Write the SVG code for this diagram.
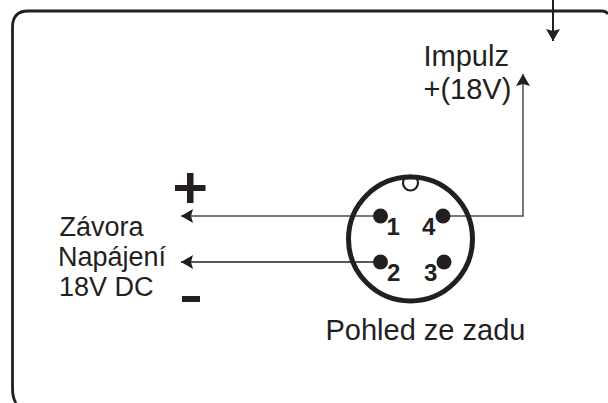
<svg xmlns="http://www.w3.org/2000/svg" width="608" height="403" viewBox="0 0 608 403">
<style>
text{font-family:"Liberation Sans",Arial,sans-serif;fill:#231f20}
.l{font-size:27px}
.r{font-size:29px}
.n{font-size:24px;font-weight:bold}
.w{fill:none;stroke:#4d4b4c;stroke-width:1.500}
.k{fill:#231f20}
</style>
<defs>
<marker id="a" markerUnits="userSpaceOnUse" markerWidth="13" markerHeight="14" refX="12" refY="7" orient="auto"><path d="M0 0L12 7L0 14L2 7Z" fill="#231f20"/></marker>
</defs>
<rect width="608" height="403" fill="#fff"/>
<g id="frame"><path d="M608 14Q606 11 602 11H28Q12.500 11 12.500 27V388Q12.500 398 16 403" fill="none" stroke="#231f20" stroke-width="2.800"/></g>
<g id="connectors">
<path class="w" d="M380 216H181" marker-end="url(#a)"/>
<path class="w" style="stroke:#231f20;stroke-width:1.300" d="M380 262H181" marker-end="url(#a)"/>
<path class="w" d="M443 216H523V74" marker-end="url(#a)"/>
<path class="w" style="stroke:#231f20;stroke-width:2" d="M553 0V41" marker-end="url(#a)"/>
</g>
<g id="connector">
<circle cx="410.500" cy="183" r="7.500" fill="#fff" stroke="#231f20" stroke-width="2.200"/>
<circle cx="410.500" cy="239" r="62" fill="none" stroke="#231f20" stroke-width="5"/>
<circle class="k" cx="380.500" cy="216" r="7.500"/>
<circle class="k" cx="443" cy="216" r="7.500"/>
<circle class="k" cx="380.500" cy="262" r="7.500"/>
<circle class="k" cx="444" cy="262" r="7.500"/>
<text class="n" x="386.500" y="235">1</text>
<text class="n" x="422" y="235">4</text>
<text class="n" x="387" y="280.500">2</text>
<text class="n" x="424" y="280.500">3</text>
</g>
<g id="plus"><path class="k" d="M175 185H187V173H193.500V185H205.500V191H193.500V203H187V191H175Z"/></g>
<g id="minus"><rect class="k" x="182" y="296" width="18" height="6"/></g>
<g id="labels">
<text class="r" x="423.500" y="66">Impulz</text>
<text class="r" x="423.500" y="99">+(18V)</text>
<text class="l" x="59.500" y="236">Závora</text>
<text class="l" x="58" y="266">Napájení</text>
<text class="l" x="59" y="296">18V DC</text>
<text class="r" x="325.500" y="340">Pohled ze zadu</text>
</g>
</svg>
